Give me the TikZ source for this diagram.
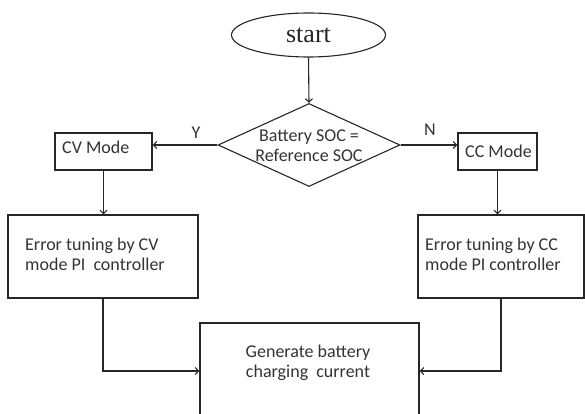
\documentclass[tikz,border=0pt]{standalone}
\usepackage{fontspec}
\setmainfont{Carlito}
\newfontfamily\serifstart{Liberation Serif}
\usetikzlibrary{shapes.geometric,arrows.meta}
\begin{document}
\begin{tikzpicture}[x=1pt,y=-1pt,
  line/.style={draw=black!85, line width=1.1pt},
  arr/.style={line, -{Straight Barb[length=3.5pt,width=7pt]}},
  box/.style={line, rectangle, inner sep=0pt},
  txt/.style={text=black!80, font=\fontsize{18}{20}\selectfont, inner sep=0pt}
]
\useasboundingbox (0,0) rectangle (585,414);
\clip (0,0) rectangle (585,414);
% nodes
\node[line, ellipse, minimum width=154pt, minimum height=44pt, inner sep=0pt,
      font=\serifstart\fontsize{26}{28}\selectfont, text=black!85] (start) at (308.5,35) {start};
\node[line, diamond, minimum width=182pt, minimum height=83pt, inner sep=0pt] (dec) at (309,145) {};
\node[txt, align=center] (dectext) at (309,146) {Battery SOC =\\Reference SOC};
\node[box, minimum width=97pt, minimum height=37pt] (cv) at (103.5,151.5) {};
\node[txt, anchor=west] (cvtext) at (62,147) {CV Mode};
\node[box, minimum width=79pt, minimum height=37pt] (cc) at (497.5,151.5) {};
\node[txt, anchor=west] (cctext) at (465,151) {CC Mode};
\node[box, minimum width=190pt, minimum height=83pt] (e1) at (103,256.5) {};
\node[txt, anchor=west, align=left] (e1text) at (25,254) {Error tuning by CV\\mode PI\ \ controller};
\node[box, minimum width=166pt, minimum height=83pt] (e2) at (501,256.5) {};
\node[txt, anchor=west, align=left] (e2text) at (425,254) {Error tuning by CC\\mode PI controller};
\node[box, minimum width=219pt, minimum height=96pt] (gen) at (309.5,371) {};
\node[txt, align=center] (gentext) at (308,363) {Generate battery\\charging\ \ current};
\node[txt] (ylab) at (196,133) {Y};
\node[txt] (nlab) at (430,130) {N};
% connectors
\draw[arr] (start.south) -- (dec.north);
\draw[arr] (dec.west) -- (cv.east |- dec.west);
\draw[arr] (dec.east) -- (cc.west |- dec.east);
\draw[arr] (cv.south) -- (cv.south |- e1.north);
\draw[arr] (cc.south) -- (cc.south |- e2.north);
\draw[arr] (e1.south) |- (gen.west);
\draw[arr] (e2.south) |- (gen.east);
\end{tikzpicture}
\end{document}
